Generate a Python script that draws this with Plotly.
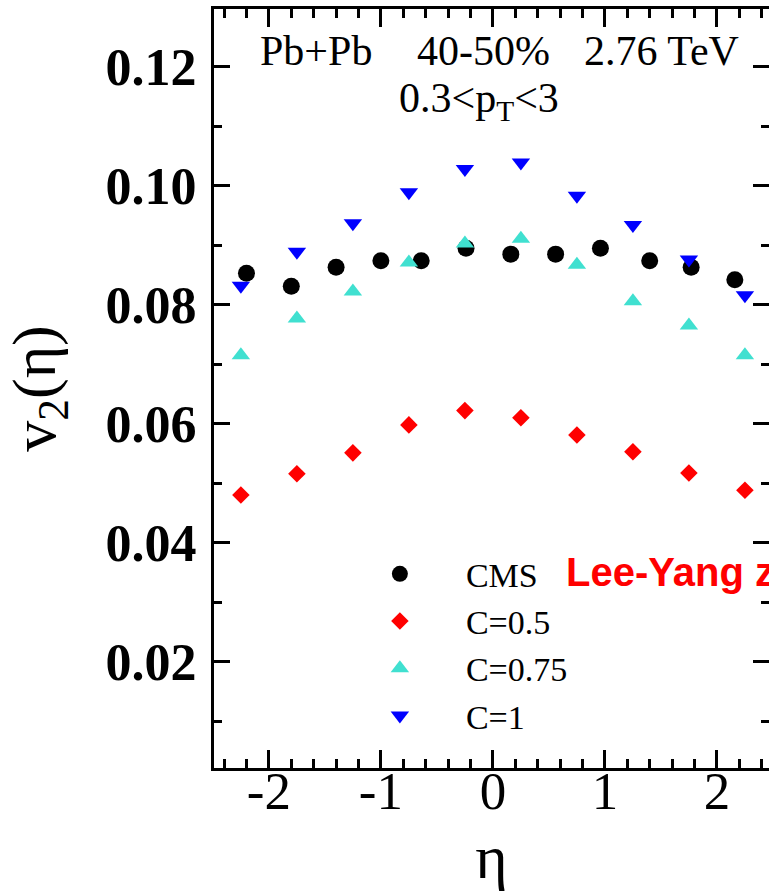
import plotly.graph_objects as go

# ---- data ----
eta_cms = [-2.2, -1.8, -1.4, -1.0, -0.64, -0.24, 0.16, 0.56, 0.96, 1.4, 1.77, 2.16]
v2_cms = [0.0853, 0.0831, 0.0863, 0.0874, 0.0874, 0.0895, 0.0885, 0.0885, 0.0895, 0.0874, 0.0863, 0.0842]

eta_model = [-2.25, -1.75, -1.25, -0.75, -0.25, 0.25, 0.75, 1.25, 1.75, 2.25]
v2_c050 = [0.0480, 0.0516, 0.0551, 0.0598, 0.0622, 0.0610, 0.0581, 0.0553, 0.0517, 0.0488]
v2_c075 = [0.0715, 0.0777, 0.0822, 0.0871, 0.0903, 0.0911, 0.0867, 0.0806, 0.0765, 0.0715]
v2_c100 = [0.0832, 0.0889, 0.0937, 0.0989, 0.1028, 0.1039, 0.0983, 0.0934, 0.0876, 0.0816]

x_ticks = [-2, -1, 0, 1, 2]
x_ticktext = ["-2", "-1", "0", "1", "2"]
y_ticks = [0.02, 0.04, 0.06, 0.08, 0.10, 0.12]
y_ticktext = ["0.02", "0.04", "0.06", "0.08", "0.10", "0.12"]

SERIF = "Liberation Serif"

fig = go.Figure()
fig.add_trace(go.Scatter(x=eta_cms, y=v2_cms, mode="markers", name="CMS",
                         marker=dict(symbol="circle", size=17, color="black")))
fig.add_trace(go.Scatter(x=eta_model, y=v2_c050, mode="markers", name="C=0.5",
                         marker=dict(symbol="diamond", size=13.5, color="#ff0000")))
fig.add_trace(go.Scatter(x=eta_model, y=v2_c075, mode="markers", name="C=0.75",
                         marker=dict(symbol="triangle-up", size=16, color="#40e0d0")))
fig.add_trace(go.Scatter(x=eta_model, y=v2_c100, mode="markers", name="C=1",
                         marker=dict(symbol="triangle-down", size=16, color="#0000ff")))

fig.update_layout(
    width=769, height=891,
    margin=dict(l=214, r=0, t=9, b=123, autoexpand=False),
    plot_bgcolor="white", paper_bgcolor="white",
    font=dict(family=SERIF, color="black"),
    showlegend=True,
    legend=dict(x=0.216, y=0.2935, xanchor="left", yanchor="top",
                bgcolor="rgba(0,0,0,0)", itemwidth=122,
                font=dict(family=SERIF, size=34, color="black"),
                tracegroupgap=0),
)

fig.update_xaxes(
    range=[-2.49, 2.465], automargin=False,
    tickmode="array", tickvals=x_ticks, ticktext=x_ticktext,
    ticks="inside", ticklen=18, tickwidth=3, tickcolor="black",
    minor=dict(dtick=0.2, tick0=0, ticks="inside", ticklen=9, tickwidth=2.5, tickcolor="black"),
    showline=True, linewidth=3, linecolor="black", mirror="ticks",
    showgrid=False, zeroline=False,
    tickfont=dict(family=SERIF, size=53, color="black"),
    ticklabelposition="inside",
    ticklabelstandoff=-62,
    title=dict(text="η", font=dict(family=SERIF, size=62, color="black"), standoff=56),
)
fig.update_yaxes(
    range=[0.00213, 0.1297], automargin=False,
    tickmode="array", tickvals=y_ticks, ticktext=y_ticktext,
    ticks="inside", ticklen=16, tickwidth=3, tickcolor="black",
    minor=dict(dtick=0.01, tick0=0, ticks="inside", ticklen=8, tickwidth=2.5, tickcolor="black"),
    showline=True, linewidth=3, linecolor="black", mirror="ticks",
    showgrid=False, zeroline=False,
    tickfont=dict(family=SERIF, size=52, color="black", weight="bold"),
    ticklabelstandoff=4,
    title=dict(text="v<sub>2</sub>(η)", font=dict(family=SERIF, size=62, color="black"), standoff=40),
)

ann_font = dict(family=SERIF, size=42, color="black")
fig.add_annotation(x=0.079, y=0.9447, xref="paper", yref="paper", xanchor="left", yanchor="middle",
                   text="Pb+Pb", showarrow=False, font=ann_font)
fig.add_annotation(x=0.362, y=0.9447, xref="paper", yref="paper", xanchor="left", yanchor="middle",
                   text="40-50%", showarrow=False, font=ann_font)
fig.add_annotation(x=0.663, y=0.9447, xref="paper", yref="paper", xanchor="left", yanchor="middle",
                   text="2.76 TeV", showarrow=False, font=ann_font)
fig.add_annotation(x=0.477, y=0.879, xref="paper", yref="paper", xanchor="center", yanchor="middle",
                   text="0.3&lt;p<sub>T</sub>&lt;3", showarrow=False, font=ann_font)
fig.add_annotation(x=0.63, y=0.258, xref="paper", yref="paper", xanchor="left", yanchor="middle",
                   text="<b>Lee-Yang zeros</b>", showarrow=False,
                   font=dict(family="Liberation Sans", size=40, color="#ff0000"))

fig.write_html("out.html")
